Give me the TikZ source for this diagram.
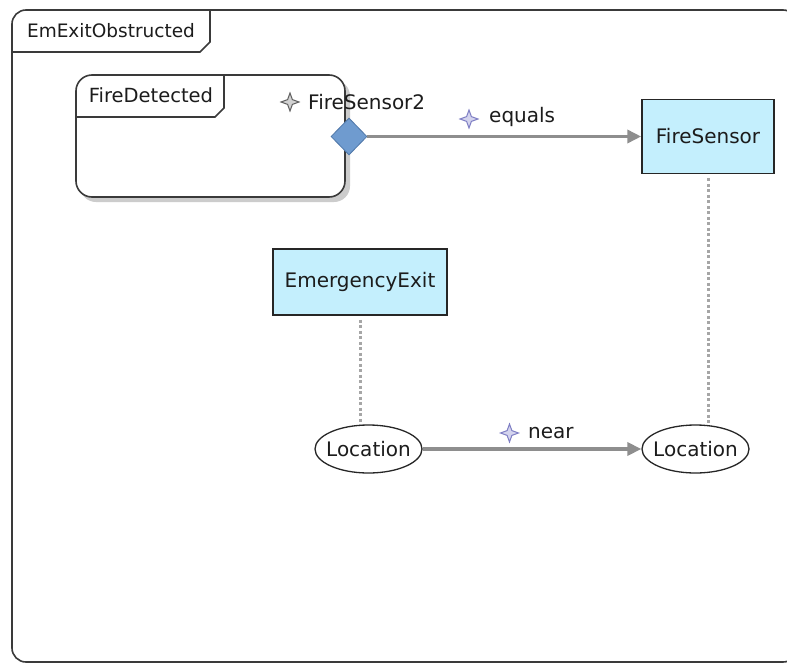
\documentclass[tikz,border=0pt]{standalone}
\usepackage{fontspec}
\setmainfont{DejaVu Sans}
\usetikzlibrary{arrows.meta,shapes.geometric,calc}
\definecolor{classfill}{HTML}{C4EFFD}
\definecolor{framegray}{HTML}{3A3A3A}
\definecolor{linkgray}{HTML}{8E8E8E}
\definecolor{portblue}{HTML}{6F9BCF}
\definecolor{portedge}{HTML}{4F77A8}
\definecolor{starpurple}{HTML}{7F7FC4}
\definecolor{starfill}{HTML}{D4D4EE}
\definecolor{txt}{HTML}{1C1C1C}

\begin{document}
\begin{tikzpicture}[x=1pt,y=-1pt,
  font=\fontsize{20}{23}\selectfont, text=txt,
  frame/.style={draw=framegray, line width=1.6pt},
  classbox/.style={rectangle, draw=black!85, line width=1.5pt, fill=classfill, inner sep=0pt},
  place/.style={ellipse, draw=black!85, line width=1.3pt, fill=white, inner sep=0pt,
                minimum width=107pt, minimum height=48pt},
  link/.style={draw=linkgray, line width=3.5pt, -{Triangle[length=14pt,width=13pt]}},
  tie/.style={draw=gray!70, line width=3pt, dash pattern=on 3pt off 2.5pt},
  caption/.style={inner sep=0pt, anchor=west},
  sparkle/.pic={
    \path[pic actions, line width=1pt] (0,-9) -- (2.4,-2.4) -- (9,0) -- (2.4,2.4)
      -- (0,9) -- (-2.4,2.4) -- (-9,0) -- (-2.4,-2.4) -- cycle;
  },
  graystar/.style={draw=gray!75!black, fill=gray!35},
  bluestar/.style={draw=starpurple, fill=starfill}
]
\useasboundingbox (0,0) rectangle (787,664);
\clip (0,0) rectangle (787,664);
\fill[white] (0,0) rectangle (787,664);

% outer diagram frame with its name tab
\draw[frame, rounded corners=14pt] (12,662) -- (12,10) -- (797,10) -- (797,662) -- cycle;
\draw[frame] (12,52) -- (200,52) -- (210,42) -- (210,10);
\node[font=\fontsize{18.5}{21}\selectfont] (title) at (111,31) {EmExitObstructed};

% FireDetected fragment: soft shadow, box and tab
\fill[gray!40, rounded corners=16pt] (80,80) rectangle (350,202);
\node[rectangle, rounded corners=16pt, draw=framegray, line width=1.6pt, fill=white,
      minimum width=269pt, minimum height=122pt, inner sep=0pt] (fd) at (210.5,136) {};
\draw[frame] (76,117) -- (215,117) -- (224,108) -- (224,75);
\node[font=\fontsize{19.5}{22}\selectfont] (fdtitle) at (151,95) {FireDetected};

% port on the fragment
\node[diamond, fill=portblue, draw=portedge, line width=0.8pt, inner sep=0pt,
      minimum width=36pt, minimum height=37pt] (port) at (349,136.5) {};
\pic[graystar] at (290,102) {sparkle};
\node[caption] (portlabel) at (308,102) {FireSensor2};

% classes
\node[classbox, minimum width=132pt, minimum height=74pt] (fs) at (708,136.5) {FireSensor};
\node[classbox, minimum width=174pt, minimum height=66pt] (ee) at (360,282) {EmergencyExit};

% attribute values (text boxed to zero width so the ellipse keeps its size)
\node[place] (loc1) at (368.5,449) {\makebox[0pt]{Location}};
\node[place] (loc2) at (695.5,449) {\makebox[0pt]{Location}};

% relations
\draw[link] (port.east) -- (fs.west);
\pic[bluestar] at (469,119) {sparkle};
\node[caption] (eqlabel) at (489,117) {equals};

\draw[link] (loc1.east) -- (loc2.west);
\pic[bluestar] at (509.5,433) {sparkle};
\node[caption] (nearlabel) at (528,433) {near};

% attribute ties
\draw[tie] ($(fs.south)+(0,4)$) -- (fs.south |- loc2.north);
\draw[tie] ($(ee.south)+(0,4)$) -- (ee.south |- loc1.north);
\end{tikzpicture}
\end{document}
